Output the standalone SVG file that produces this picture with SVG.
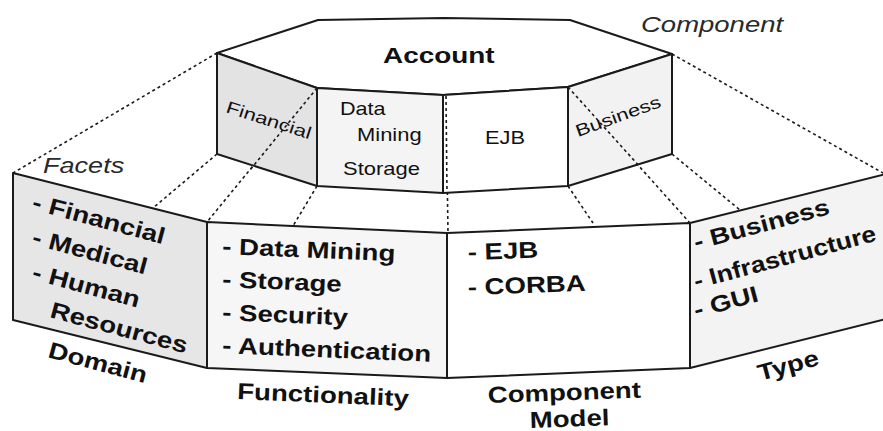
<svg xmlns="http://www.w3.org/2000/svg" width="883" height="431" viewBox="0 0 883 431">
  <style>
    .edge { stroke: #1a1a1a; stroke-width: 2; stroke-linejoin: round; }
    .dot { fill: none; stroke: #1a1a1a; stroke-width: 1.6; stroke-dasharray: 3 3; }
    .t { font-family: "Liberation Sans", Arial, sans-serif; fill: #111; }
    .big { font-size: 23px; font-weight: bold; }
    .small { font-size: 18px; }
    .tiny { font-size: 17px; }
    .ital { font-style: italic; font-size: 22px; fill: #2a2a2a; }
  </style>
  <rect width="883" height="431" fill="#ffffff"/>

  <!-- dotted guide lines joining the inner prism to the outer ring -->
  <g id="connectors">
    <path class="dot" d="M217 53 L13 173"/>
    <path class="dot" d="M672 54 L883 173"/>
    <path class="dot" d="M217 154 L153 208"/>
    <path class="dot" d="M672 154 L740 210"/>
    <path class="dot" d="M317 88 L207 222"/>
    <path class="dot" d="M568 87 L690 223"/>
    <path class="dot" d="M317 186 L293 226"/>
    <path class="dot" d="M568 186 L593 223"/>
    <path class="dot" d="M446 96 L448 233"/>
  </g>

  <!-- outer ring of facets -->
  <g id="domain">
    <polygon class="edge" fill="#e6e6e6" points="13,173 207,222 207,368 13,320"/>
    <g class="t big">
      <text transform="translate(31,209) rotate(15) scale(1.2,1)">- Financial</text>
      <text transform="translate(31,244) rotate(15) scale(1.2,1)">- Medical</text>
      <text transform="translate(31,279) rotate(15) scale(1.2,1)">- Human</text>
      <text transform="translate(49,317) rotate(15) scale(1.2,1)">Resources</text>
      <text transform="translate(47,357) rotate(15) scale(1.2,1)">Domain</text>
    </g>
  </g>

  <g id="functionality">
    <polygon class="edge" fill="#f6f6f6" points="207,222 447,233 447,378 207,368"/>
    <g class="t big">
      <text transform="translate(222,254) rotate(2.4) scale(1.2,1)">- Data Mining</text>
      <text transform="translate(222,287) rotate(2.4) scale(1.2,1)">- Storage</text>
      <text transform="translate(222,320) rotate(2.4) scale(1.2,1)">- Security</text>
      <text transform="translate(222,353) rotate(2.4) scale(1.2,1)">- Authentication</text>
      <text transform="translate(237,399) rotate(2.4) scale(1.2,1)">Functionality</text>
    </g>
  </g>

  <g id="component-model">
    <polygon class="edge" fill="#ffffff" points="447,233 690,223 690,368 447,378"/>
    <g class="t big">
      <text transform="translate(468,260) rotate(-2) scale(1.2,1)">- EJB</text>
      <text transform="translate(468,295) rotate(-2) scale(1.2,1)">- CORBA</text>
      <text transform="translate(488,403) rotate(-2) scale(1.2,1)">Component</text>
      <text transform="translate(530,428) rotate(-2) scale(1.2,1)">Model</text>
    </g>
  </g>

  <g id="type">
    <polygon class="edge" fill="#f3f3f3" points="690,223 886,174 886,319 690,368"/>
    <g class="t big">
      <text transform="translate(696,250) rotate(-15) scale(1.2,1)">- Business</text>
      <text transform="translate(696,289) rotate(-15) scale(1.15,1)">- Infrastructure</text>
      <text transform="translate(696,318) rotate(-15) scale(1.2,1)">- GUI</text>
      <text transform="translate(760,381) rotate(-15) scale(1.2,1)">Type</text>
    </g>
  </g>

  <!-- inner prism: the Account component -->
  <g id="account">
    <polygon class="edge" fill="#ffffff" points="217,53 318,20 444,18 570,20 672,54 568,87 443,95 317,88"/>
    <text class="t" font-size="22" font-weight="bold" transform="translate(383,63) scale(1.27,1)">Account</text>
  </g>

  <g id="account-financial">
    <polygon class="edge" fill="#e3e3e3" points="217,53 317,88 317,186 217,154"/>
    <text class="t tiny" transform="translate(225,112) rotate(18) scale(1.3,1)">Financial</text>
  </g>

  <g id="account-functionality">
    <polygon class="edge" fill="#f4f4f4" points="317,88 443,95 443,193 317,186"/>
    <g class="t small">
      <text transform="translate(340,115) scale(1.2,1)">Data</text>
      <text transform="translate(357,141) scale(1.22,1)">Mining</text>
      <text transform="translate(343,175) scale(1.22,1)">Storage</text>
    </g>
  </g>

  <g id="account-model">
    <polygon class="edge" fill="#ffffff" points="443,95 568,87 568,186 443,193"/>
    <text class="t small" transform="translate(485,144) scale(1.21,1)">EJB</text>
  </g>

  <g id="account-type">
    <polygon class="edge" fill="#f2f2f2" points="568,87 672,54 672,154 568,186"/>
    <text class="t tiny" transform="translate(578,137) rotate(-20) scale(1.3,1)">Business</text>
  </g>

  <!-- dotted lines that run over the prism faces -->
  <g id="connectors-front">
    <path class="dot" d="M317 88 L250 170"/>
    <path class="dot" d="M568 87 L640 167"/>
    <path class="dot" d="M446 96 L447 193"/>
  </g>

  <!-- captions -->
  <g id="captions">
    <text class="t ital" transform="translate(641,32) scale(1.25,1)">Component</text>
    <text class="t ital" font-size="23" transform="translate(43,173) scale(1.23,1)">Facets</text>
  </g>
</svg>
